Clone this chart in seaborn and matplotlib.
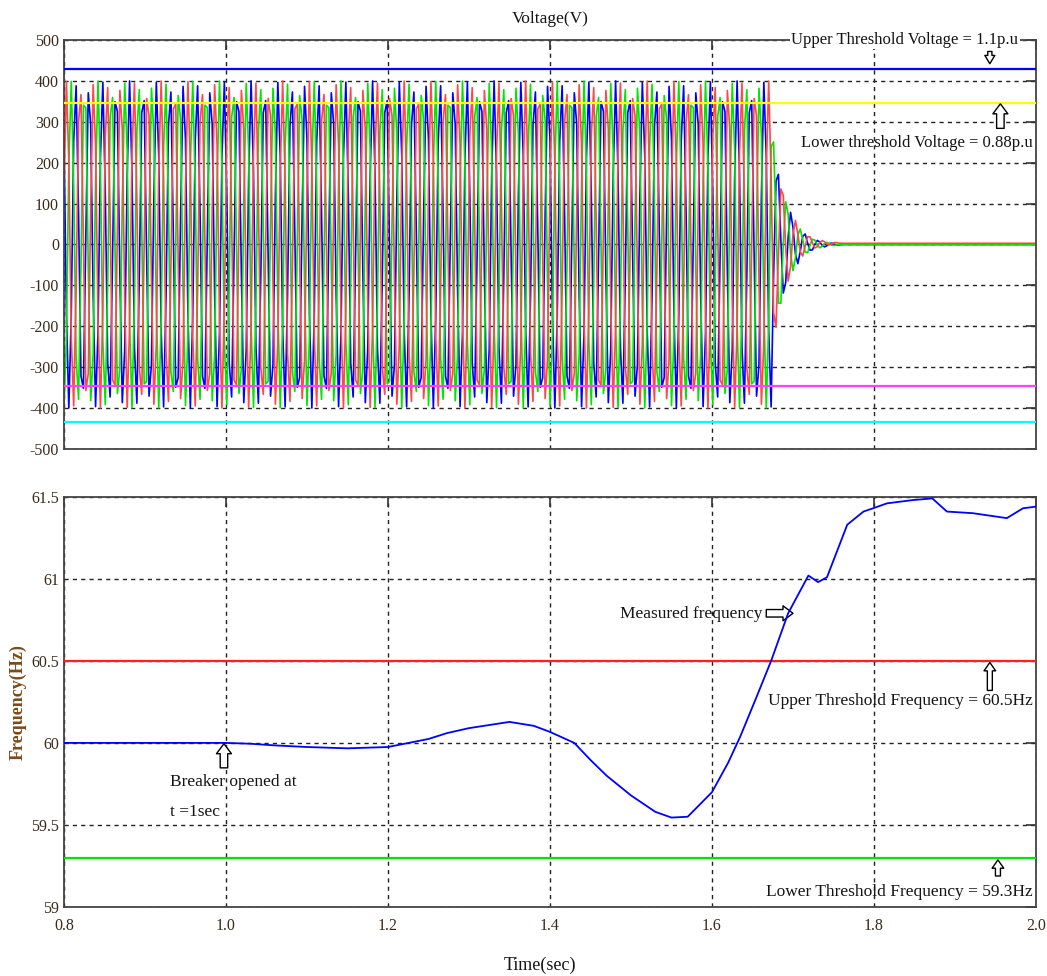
import numpy as np
import pandas as pd
import matplotlib
matplotlib.use("Agg")
import matplotlib.pyplot as plt
import seaborn as sns

# ---------------- data ----------------
# three-phase voltage
V_PEAK = 400.0          # V, steady peak before collapse
F_GRID = 60.0           # Hz
T_COLLAPSE = 1.675      # s, where the waveform collapses
SAMPLE_DT = 0.003       # s, sampling step of the plotted trace
PHASES = ["Vc", "Vb", "Va"]
PHASE_DEG = [140, -100, 20]
PHASE_COLORS = ["#0000ff", "#00e600", "#ff4848"]
DECAY_T = [1.675, 1.68, 1.69, 1.70, 1.71, 1.72, 1.735, 1.76, 2.0]
DECAY_V = [270, 200, 120, 65, 35, 18, 7, 0, 0]
V_OFFSET = [0, 0, 3]    # small residual offsets after collapse

V_THRESH = [430, 345, -347, -433]
V_THRESH_COLORS = ["#0000ff", "#ffff00", "#ff40ff", "#00ffff"]

# measured frequency
FREQ_T = [0.80, 1.00, 1.03, 1.06, 1.10, 1.15, 1.20, 1.25, 1.273, 1.30, 1.35,
          1.38, 1.40, 1.43, 1.45, 1.47, 1.50, 1.53, 1.55, 1.57, 1.60, 1.62,
          1.635, 1.655, 1.673, 1.694, 1.719, 1.731, 1.742, 1.767, 1.787, 1.799,
          1.816, 1.848, 1.872, 1.890, 1.922, 1.964, 1.984, 2.0]
FREQ_HZ = [60.0, 60.0, 59.995, 59.985, 59.975, 59.967, 59.975, 60.024, 60.06,
           60.09, 60.128, 60.104, 60.067, 60.0, 59.896, 59.80, 59.68, 59.58,
           59.545, 59.55, 59.70, 59.88, 60.04, 60.28, 60.5, 60.79, 61.02, 60.98,
           61.01, 61.33, 61.41, 61.43, 61.46, 61.48, 61.49, 61.41, 61.40, 61.37,
           61.43, 61.44]
F_THRESH = [60.5, 59.3]
F_THRESH_COLORS = ["#ff2020", "#00e600"]

X_TICKS = [0.8, 1.0, 1.2, 1.4, 1.6, 1.8, 2.0]
X_TICK_LABELS = ["0.8", "1.0", "1.2", "1.4", "1.6", "1.8", "2.0"]
V_TICKS = [-500, -400, -300, -200, -100, 0, 100, 200, 300, 400, 500]
F_TICKS = [59, 59.5, 60, 60.5, 61, 61.5]
F_TICK_LABELS = ["59", "59.5", "60", "60.5", "61", "61.5"]

# ---------------- build tables ----------------
t = np.arange(0.8, 2.0 + 1e-9, SAMPLE_DT)
env = np.where(t < T_COLLAPSE, V_PEAK, np.interp(t, DECAY_T, DECAY_V))
rows = []
for name, deg, off in zip(PHASES, PHASE_DEG, V_OFFSET):
    v = env * np.sin(2 * np.pi * F_GRID * t + np.deg2rad(deg))
    v = v + np.where(t < T_COLLAPSE, 0, off)
    rows.append(pd.DataFrame({"t": t, "v": v, "phase": name}))
volt = pd.concat(rows, ignore_index=True)
freq = pd.DataFrame({"t": FREQ_T, "f": FREQ_HZ})

# ---------------- style ----------------
sns.set_theme(style="white")
plt.rcParams["font.family"] = ["Liberation Serif", "DejaVu Serif"]
plt.rcParams["axes.unicode_minus"] = False
TICK_COLOR = "#3b2a1a"
TXT = "#141414"

fig = plt.figure(figsize=(10.47, 9.76), dpi=100)
ax1 = fig.add_axes([0.0611, 0.540, 0.9284, 0.419])
ax2 = fig.add_axes([0.0611, 0.0707, 0.9284, 0.4203])

def style_axis(ax):
    for s in ax.spines.values():
        s.set_color("#444444")
        s.set_linewidth(1.3)
    ax.tick_params(direction="in", length=7, width=1.2, color="#333333",
                   top=True, right=True, labelsize=11.5, labelcolor=TICK_COLOR)
    ax.grid(True, color="#222222", linestyle=(0, (3, 3)), linewidth=1.0)
    ax.set_xlabel("")
    ax.set_ylabel("")
    ax.set_xlim(0.8, 2.0)
    ax.set_xticks(X_TICKS)

# ---------------- voltage panel ----------------
sns.lineplot(data=volt, x="t", y="v", hue="phase", hue_order=PHASES,
             palette=PHASE_COLORS, estimator=None, sort=False, linewidth=1.2,
             legend=False, ax=ax1)
for val, col in zip(V_THRESH, V_THRESH_COLORS):
    ax1.axhline(val, color=col, linewidth=1.6, zorder=3)
style_axis(ax1)
ax1.set_ylim(-500, 500)
ax1.set_yticks(V_TICKS)
ax1.set_xticklabels([])
ax1.set_title("Voltage(V)", fontsize=12.5, color=TXT, pad=12)

hollow = dict(fc="white", ec="black", lw=1.0, shrinkA=0, shrinkB=0)
ax1.text(1.838, 500, "Upper Threshold Voltage = 1.1p.u", ha="center", va="center",
         fontsize=12, color=TXT, clip_on=False, zorder=6,
         bbox=dict(fc="white", ec="none", pad=1))
ax1.annotate("", xy=(1.943, 442), xytext=(1.943, 472),
             arrowprops=dict(arrowstyle="simple,head_length=0.5,head_width=0.6,tail_width=0.25", **hollow))
ax1.annotate("", xy=(1.956, 344), xytext=(1.956, 284),
             arrowprops=dict(arrowstyle="simple,head_length=0.6,head_width=0.9,tail_width=0.45", **hollow))
ax1.text(1.853, 247, "Lower threshold Voltage = 0.88p.u", ha="center", va="center",
         fontsize=12, color=TXT, zorder=6)

# ---------------- frequency panel ----------------
for val, col in zip(F_THRESH, F_THRESH_COLORS):
    ax2.axhline(val, color=col, linewidth=1.6, zorder=3)
sns.lineplot(data=freq, x="t", y="f", color="#0000ff", linewidth=1.3,
             estimator=None, ax=ax2, zorder=4)
style_axis(ax2)
ax2.set_ylim(59, 61.5)
ax2.set_yticks(F_TICKS)
ax2.set_yticklabels(F_TICK_LABELS)
ax2.set_xticklabels(X_TICK_LABELS)
ax2.tick_params(axis="x", pad=8)

ax2.text(1.662, 60.787, "Measured frequency", ha="right", va="center",
         fontsize=12.5, color=TXT, zorder=6)
ax2.annotate("", xy=(1.700, 60.79), xytext=(1.667, 60.79),
             arrowprops=dict(arrowstyle="simple,head_length=0.6,head_width=0.9,tail_width=0.45", **hollow))
ax2.annotate("", xy=(1.943, 60.49), xytext=(1.943, 60.32),
             arrowprops=dict(arrowstyle="simple,head_length=0.5,head_width=0.7,tail_width=0.3", **hollow))
ax2.text(1.832, 60.256, "Upper Threshold Frequency = 60.5Hz", ha="center", va="center",
         fontsize=12.5, color=TXT, zorder=6)
ax2.annotate("", xy=(0.9975, 59.995), xytext=(0.9975, 59.848),
             arrowprops=dict(arrowstyle="simple,head_length=0.6,head_width=0.9,tail_width=0.45", **hollow))
ax2.text(0.931, 59.762, "Breaker opened at", ha="left", va="center",
         fontsize=12.5, color=TXT, zorder=6)
ax2.text(0.931, 59.579, "t =1sec", ha="left", va="center",
         fontsize=12.5, color=TXT, zorder=6)
ax2.annotate("", xy=(1.953, 59.287), xytext=(1.953, 59.189),
             arrowprops=dict(arrowstyle="simple,head_length=0.5,head_width=0.7,tail_width=0.3", **hollow))
ax2.text(1.831, 59.09, "Lower Threshold Frequency = 59.3Hz", ha="center", va="center",
         fontsize=12.5, color=TXT, zorder=6)

fig.text(0.017, 0.281, "Frequency(Hz)", rotation=90, ha="center", va="center",
         fontsize=13, fontweight="bold", color="#7a4a1a")
fig.text(0.516, 0.011, "Time(sec)", ha="center", va="center", fontsize=13, color=TXT)

fig.savefig("out.png", dpi=100)
